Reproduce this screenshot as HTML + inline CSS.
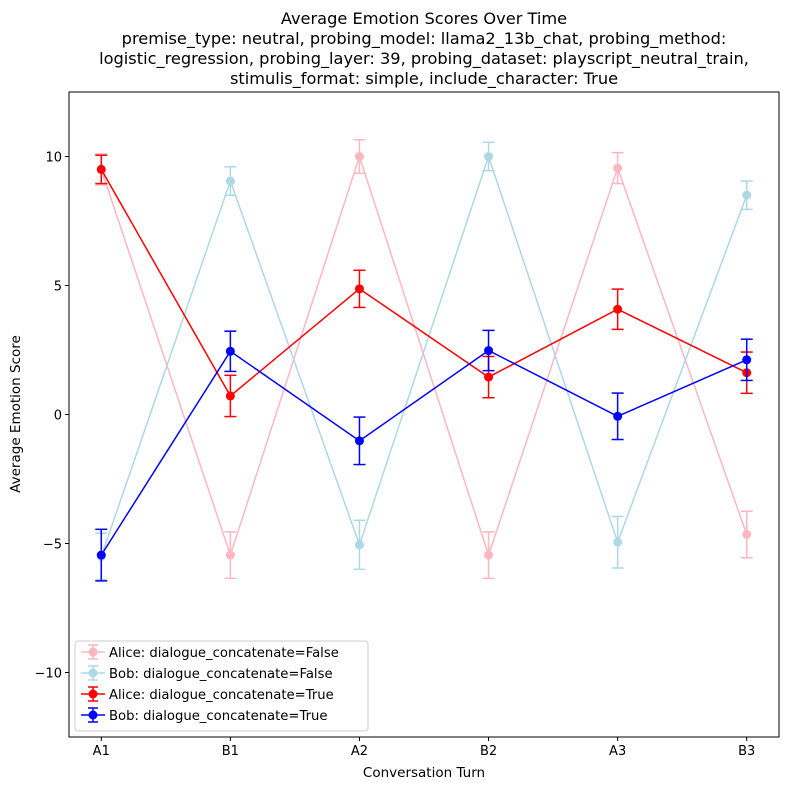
<!DOCTYPE html>
<html><head><meta charset="utf-8"><style>
body{margin:0;background:#fff;}
svg{font-family:"DejaVu Sans","Liberation Sans",sans-serif;}
</style></head><body>
<svg id="chart" width="790" height="790" xmlns="http://www.w3.org/2000/svg">
<rect width="790" height="790" fill="#fff"/>
<g font-size="16.2" text-anchor="middle" fill="#000">
<text x="424" y="24">Average Emotion Scores Over Time</text>
<text x="424" y="44">premise_type: neutral, probing_model: llama2_13b_chat, probing_method:</text>
<text x="424" y="64">logistic_regression, probing_layer: 39, probing_dataset: playscript_neutral_train,</text>
<text x="424" y="84">stimulis_format: simple, include_character: True</text>
</g>
<g id="axes"></g>
<g id="series"></g>
<g id="legend"></g>
<text x="424" y="777" font-size="13.5" text-anchor="middle">Conversation Turn</text>
<text transform="translate(20,414) rotate(-90)" font-size="13.5" text-anchor="middle">Average Emotion Score</text>
</svg>
<script>
const categories=["A1","B1","A2","B2","A3","B3"];
const yTicks=[-10,-5,0,5,10];
const aliceFalse=[9.5,-5.45,10.0,-5.45,9.55,-4.65];
const aliceFalseErr=[0.6,0.9,0.65,0.9,0.6,0.9];
const bobFalse=[-5.5,9.05,-5.05,10.0,-4.95,8.5];
const bobFalseErr=[0.9,0.55,0.95,0.55,1.0,0.55];
const aliceTrue=[9.5,0.72,4.87,1.45,4.08,1.62];
const aliceTrueErr=[0.55,0.8,0.72,0.8,0.78,0.8];
const bobTrue=[-5.45,2.45,-1.02,2.48,-0.07,2.12];
const bobTrueErr=[1.0,0.78,0.92,0.78,0.9,0.8];
const seriesNames=["Alice: dialogue_concatenate=False","Bob: dialogue_concatenate=False","Alice: dialogue_concatenate=True","Bob: dialogue_concatenate=True"];

const NS="http://www.w3.org/2000/svg";
const L=69,R=779,T=92,B=737,ymin=-12.5,ymax=12.5,xmin=-0.25,xmax=5.25;
const xs=i=>L+(i-xmin)/(xmax-xmin)*(R-L);
const ys=v=>B-(v-ymin)/(ymax-ymin)*(B-T);
function mk(tag,attrs,parent){const e=document.createElementNS(NS,tag);for(const k in attrs)e.setAttribute(k,attrs[k]);parent.appendChild(e);return e;}
const axes=document.getElementById('axes');
const frame=mk('rect',{x:L,y:T,width:R-L,height:B-T,fill:'none',stroke:'#000','stroke-width':1},axes);


categories.forEach((c,i)=>{
 const g=mk('g',{},axes);
 
 
 mk('line',{x1:xs(i),x2:xs(i),y1:B,y2:B+4,stroke:'#000'},g);
 const t=mk('text',{x:xs(i),y:B+18,'font-size':13,'text-anchor':'middle'},g);t.textContent=c;
});
yTicks.forEach(v=>{
 const g=mk('g',{},axes);
 
 
 mk('line',{x1:L-4,x2:L,y1:ys(v),y2:ys(v),stroke:'#000'},g);
 const t=mk('text',{x:L-7,y:ys(v)+5,'font-size':13,'text-anchor':'end'},g);t.textContent=v<0?'\u2212'+(-v):v;
});
const sg=document.getElementById('series');
const defs=[[aliceFalse,aliceFalseErr,'#ffb6c1','alice-false'],[bobFalse,bobFalseErr,'#add8e6','bob-false'],[aliceTrue,aliceTrueErr,'#ff0000','alice-true'],[bobTrue,bobTrueErr,'#0000ff','bob-true']];
defs.forEach(([vals,errs,col,nm])=>{
 const g=mk('g',{},sg);
 
 
 vals.forEach((v,i)=>{
  const x=xs(i),y1=ys(v+errs[i]),y2=ys(v-errs[i]);
  mk('line',{x1:x,x2:x,y1:y1,y2:y2,stroke:col,'stroke-width':1.5},g);
  mk('line',{x1:x-6,x2:x+6,y1:y1,y2:y1,stroke:col,'stroke-width':1.5},g);
  mk('line',{x1:x-6,x2:x+6,y1:y2,y2:y2,stroke:col,'stroke-width':1.5},g);
 });
 mk('polyline',{points:vals.map((v,i)=>xs(i)+','+ys(v)).join(' '),fill:'none',stroke:col,'stroke-width':1.5},g);
 vals.forEach((v,i)=>{const p=mk('circle',{cx:xs(i),cy:ys(v),r:4.5,fill:col},g);
  
  });
});
const lg=document.getElementById('legend');


mk('rect',{x:75,y:641,width:293,height:90,rx:3,fill:'#fff','fill-opacity':0.8,stroke:'#ccc'},lg);
defs.forEach(([v,e,col,nm],k)=>{
 const y=652+k*21;
 const g=mk('g',{},lg);
 
 
 mk('line',{x1:81,x2:105,y1:y,y2:y,stroke:col,'stroke-width':1.5},g);
 mk('line',{x1:93,x2:93,y1:y-7,y2:y+7,stroke:col,'stroke-width':1.5},g);
 mk('line',{x1:88,x2:98,y1:y-7,y2:y-7,stroke:col,'stroke-width':1.5},g);
 mk('line',{x1:88,x2:98,y1:y+7,y2:y+7,stroke:col,'stroke-width':1.5},g);
 mk('circle',{cx:93,cy:y,r:4.5,fill:col},g);
 const t=mk('text',{x:109,y:y+5,'font-size':13.2},g);t.textContent=seriesNames[k];
});
</script>
</body></html>
